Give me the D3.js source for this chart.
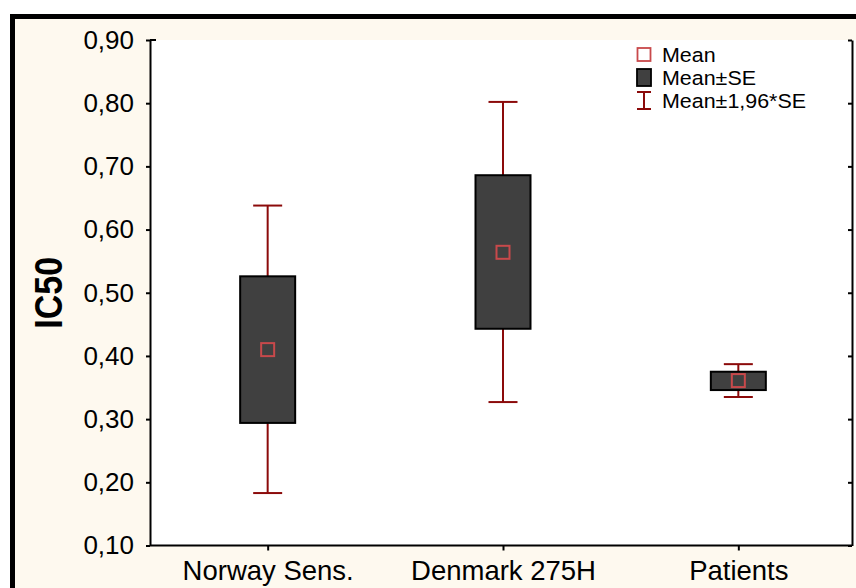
<!DOCTYPE html>
<html>
  <head>
    <meta charset="utf-8" />
    <style>
      body { margin: 0; background: #fff; }
      svg { display: block; font-family: "Liberation Sans", Arial, sans-serif; }
    </style>
  </head>
  <body>
    <svg id="chart" width="856" height="588"></svg>

    <script src="https://cdnjs.cloudflare.com/ajax/libs/d3/7.8.5/d3.min.js"></script>
    <script>
      // values
      const categories = ["Norway Sens.", "Denmark 275H", "Patients"];
      const means = [0.410, 0.564, 0.361];
      const seLow = [0.294, 0.443, 0.346];
      const seHigh = [0.526, 0.686, 0.375];
      const ciLow = [0.183, 0.327, 0.335];
      const ciHigh = [0.638, 0.802, 0.387];
      const yTicks = [0.1, 0.2, 0.3, 0.4, 0.5, 0.6, 0.7, 0.8, 0.9];
      const legendLabels = ["Mean", "Mean±SE", "Mean±1,96*SE"];

      const rows = categories.map((c, i) => ({
        name: c, mean: means[i], seLow: seLow[i], seHigh: seHigh[i],
        ciLow: ciLow[i], ciHigh: ciHigh[i]
      }));

      const plotL = 150, plotR = 852, plotT = 40, plotB = 545.5;
      const whiskerColor = "#8b0a0a";
      const meanColor = "#c8494b";

      const svg = d3.select("#chart");

      // cream page with thick black frame (cut off at right/bottom)
      svg.append("rect")
        .attr("x", 12.5).attr("y", 16.5)
        .attr("width", 900).attr("height", 700)
        .attr("fill", "#fef9ef")
        .attr("stroke", "#000").attr("stroke-width", 5);

      svg.append("rect")
        .attr("x", plotL).attr("y", plotT)
        .attr("width", 856 - plotL).attr("height", plotB - plotT)
        .attr("fill", "#fff");

      const x = d3.scalePoint().domain(categories).range([plotL, 856]).padding(0.5);
      const y = d3.scaleLinear().domain([0.1, 0.9]).range([plotB, plotT]);

      const fmt = d3.formatLocale({ decimal: ",", thousands: " ", grouping: [3], currency: ["", ""] }).format(".2f");

      // left axis
      const gy = svg.append("g")
        .attr("transform", `translate(${plotL},0)`)
        .call(d3.axisLeft(y).tickValues(yTicks).tickFormat(fmt).tickSize(4).tickPadding(12).tickSizeOuter(0));
      gy.selectAll("text").attr("font-size", 26).attr("fill", "#000");

      // right axis, ticks pointing in
      svg.append("g")
        .attr("transform", `translate(${plotR},0)`)
        .call(d3.axisLeft(y).tickValues(yTicks).tickFormat("").tickSize(4).tickSizeOuter(0));

      // bottom axis
      const gx = svg.append("g")
        .attr("transform", `translate(0,${plotB})`)
        .call(d3.axisBottom(x).tickSize(5).tickPadding(10).tickSizeOuter(0));
      gx.select(".domain").attr("d", `M${plotL},0H${plotR}`);
      gx.selectAll("text").attr("font-size", 27.5).attr("fill", "#000");

      svg.selectAll(".domain, .tick line").attr("stroke", "#000").attr("stroke-width", 2);

      // small stub at top-left corner
      svg.append("line")
        .attr("x1", plotL).attr("x2", plotL + 6)
        .attr("y1", plotT).attr("y2", plotT)
        .attr("stroke", "#000").attr("stroke-width", 2);

      // y axis title
      svg.append("text")
        .attr("transform", `translate(62,${(plotT + plotB) / 2}) scale(1.15,1) rotate(-90)`)
        .attr("text-anchor", "middle")
        .attr("font-size", 34).attr("font-weight", "bold")
        .text("IC50");

      const boxW = 55, capW = 29, markS = 13;
      const g = svg.append("g");

      // whiskers
      g.selectAll(".wu").data(rows).join("line")
        .attr("x1", d => x(d.name)).attr("x2", d => x(d.name))
        .attr("y1", d => y(d.ciHigh)).attr("y2", d => y(d.seHigh))
        .attr("stroke", whiskerColor).attr("stroke-width", 2);
      g.selectAll(".wl").data(rows).join("line")
        .attr("x1", d => x(d.name)).attr("x2", d => x(d.name))
        .attr("y1", d => y(d.seLow)).attr("y2", d => y(d.ciLow))
        .attr("stroke", whiskerColor).attr("stroke-width", 2);
      ["ciHigh", "ciLow"].forEach(k => {
        g.selectAll(".cap-" + k).data(rows).join("line")
          .attr("class", "cap-" + k)
          .attr("x1", d => x(d.name) - capW / 2).attr("x2", d => x(d.name) + capW / 2)
          .attr("y1", d => y(d[k])).attr("y2", d => y(d[k]))
          .attr("stroke", whiskerColor).attr("stroke-width", 2);
      });

      // SE boxes
      g.selectAll(".box").data(rows).join("rect")
        .attr("x", d => x(d.name) - boxW / 2)
        .attr("y", d => y(d.seHigh))
        .attr("width", boxW)
        .attr("height", d => y(d.seLow) - y(d.seHigh))
        .attr("fill", "#404040").attr("stroke", "#000").attr("stroke-width", 2);

      // mean markers
      g.selectAll(".mean").data(rows).join("rect")
        .attr("x", d => x(d.name) - markS / 2)
        .attr("y", d => y(d.mean) - markS / 2)
        .attr("width", markS).attr("height", markS)
        .attr("fill", "none").attr("stroke", meanColor).attr("stroke-width", 2);

      // legend
      const lx = 644, ly = [54.5, 77.5, 100.5];
      const leg = svg.append("g");
      leg.append("rect").attr("x", lx - 6.5).attr("y", ly[0] - 6.5).attr("width", 13).attr("height", 13)
        .attr("fill", "none").attr("stroke", meanColor).attr("stroke-width", 1.8);
      leg.append("rect").attr("x", lx - 7).attr("y", ly[1] - 8.5).attr("width", 14).attr("height", 17)
        .attr("fill", "#404040").attr("stroke", "#000").attr("stroke-width", 1.8);
      leg.append("path")
        .attr("d", `M${lx - 7},${ly[2] - 8.5}H${lx + 7}M${lx},${ly[2] - 8.5}V${ly[2] + 8.5}M${lx - 7},${ly[2] + 8.5}H${lx + 7}`)
        .attr("fill", "none").attr("stroke", whiskerColor).attr("stroke-width", 2);
      leg.selectAll("text").data(legendLabels).join("text")
        .attr("transform", (d, i) => `translate(662,${ly[i] + 7}) scale(1.1,1)`)
        .attr("font-size", 19.5)
        .text(d => d);
    </script>
  </body>
</html>
